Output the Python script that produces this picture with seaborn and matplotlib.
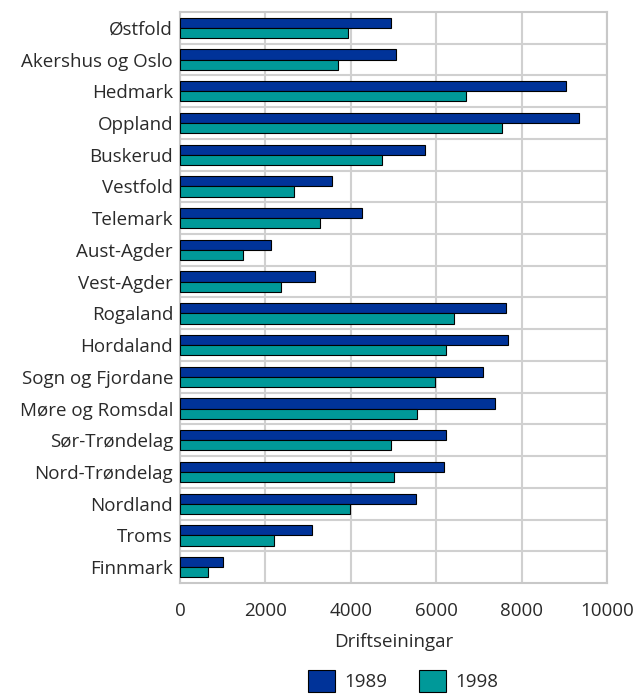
import matplotlib
matplotlib.use("Agg")
import matplotlib.pyplot as plt
import seaborn as sns
import pandas as pd
from matplotlib.patches import Patch

counties = ["Østfold", "Akershus og Oslo", "Hedmark", "Oppland", "Buskerud", "Vestfold",
            "Telemark", "Aust-Agder", "Vest-Agder", "Rogaland", "Hordaland",
            "Sogn og Fjordane", "Møre og Romsdal", "Sør-Trøndelag", "Nord-Trøndelag",
            "Nordland", "Troms", "Finnmark"]
v1989 = [4930, 5070, 9050, 9340, 5740, 3560, 4270, 2130, 3160, 7630, 7690,
         7090, 7380, 6240, 6190, 5530, 3100, 1000]
v1998 = [3930, 3690, 6690, 7550, 4720, 2680, 3280, 1470, 2370, 6410, 6240,
         5970, 5540, 4940, 5020, 3980, 2200, 660]
years = ["1989", "1998"]
colors = ["#003399", "#009999"]
xticks = [0, 2000, 4000, 6000, 8000, 10000]

df = pd.DataFrame({
    "fylke": counties * 2,
    "verdi": v1989 + v1998,
    "år": [years[0]] * len(counties) + [years[1]] * len(counties),
})

sns.set_style("white")
plt.rcParams["font.family"] = ["Open Sans", "DejaVu Sans"]
FS = 13.5
TC = "#2a2a2a"

fig = plt.figure(figsize=(6.37, 6.95), dpi=100)
ax = fig.add_axes([180/637, 1-583/695, 427/637, 571/695])

sns.barplot(data=df, x="verdi", y="fylke", hue="år", order=counties, hue_order=years,
            palette=colors, orient="h", width=0.64, edgecolor="black", linewidth=0.8,
            saturation=1, ax=ax, legend=False, zorder=3)

ax.set_xlim(0, 10000)
ax.set_ylim(len(counties) - 0.5, -0.5)
ax.set_xticks(xticks)
ax.set_xticklabels([str(t) for t in xticks])
ax.set_yticks(range(len(counties)))
ax.set_yticks([i + 0.5 for i in range(len(counties) - 1)], minor=True)
ax.grid(True, axis="x", which="major", color="#d0d0d0", linewidth=1.5, zorder=0)
ax.grid(True, axis="y", which="minor", color="#d0d0d0", linewidth=1.5, zorder=0)
ax.grid(False, axis="y", which="major")
ax.tick_params(axis="both", which="both", length=0, labelsize=FS, colors=TC)
ax.tick_params(axis="x", pad=14)
ax.tick_params(axis="y", pad=5)
for s in ax.spines.values():
    s.set_color("#c8c8c8")
    s.set_linewidth(1.5)
ax.set_ylabel("")
ax.set_xlabel("Driftseiningar", fontsize=FS, color=TC, labelpad=9)

handles = [Patch(facecolor=c, edgecolor="black", linewidth=0.8) for c in colors]
fig.legend(handles, years, loc="lower center", bbox_to_anchor=(403/637, -0.02), ncol=2,
           frameon=False, fontsize=FS, handlelength=1.45, handleheight=1.45,
           columnspacing=1.7, handletextpad=0.5, labelcolor=TC)

fig.savefig("out.png", dpi=100)
